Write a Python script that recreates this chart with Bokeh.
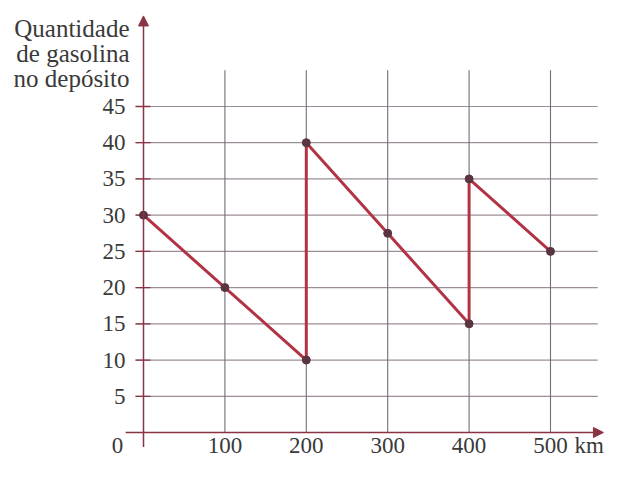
from bokeh.plotting import figure
from bokeh.models import Range1d, ColumnDataSource, Arrow, NormalHead
from bokeh.core.properties import value
from bokeh.embed import file_html
from bokeh.resources import INLINE

# ---- data ----
km = [0, 100, 200, 200, 300, 400, 400, 500]
fuel = [30, 20, 10, 40, 27.5, 15, 35, 25]
y_ticks = [5, 10, 15, 20, 25, 30, 35, 40, 45]
y_tick_labels = ["5", "10", "15", "20", "25", "30", "35", "40", "45"]
x_ticks = [100, 200, 300, 400, 500]
x_tick_labels = ["100", "200", "300", "400", "500"]
title_lines = ["Quantidade", "de gasolina", "no depósito"]
x_unit = "km"
origin_label = "0"

SERIF = "Liberation Serif"
TXT = "#3a3a3a"
AXIS = "#8a3344"
LINE = "#b23444"
DOT = "#5a3540"
HGRID = "#9c8e99"
VGRID = "#6f6f7c"

Y_TOP = 59.63
p = figure(width=605, height=462, output_backend="svg", toolbar_location=None,
           x_range=Range1d(-175.68, 567.57), y_range=Range1d(-4.141, Y_TOP),
           min_border=0, min_border_left=0, min_border_right=0,
           min_border_top=0, min_border_bottom=0)
p.xaxis.visible = False
p.yaxis.visible = False
p.xgrid.visible = False
p.ygrid.visible = False
p.outline_line_color = None
p.background_fill_color = "white"
p.border_fill_color = "white"

x_left = -9.8
x_right = 558
y_top = 50.0

# horizontal grid lines
p.segment(x0=[x_left] * len(y_ticks), y0=y_ticks, x1=[x_right] * len(y_ticks), y1=y_ticks,
          line_color=HGRID, line_width=1.2)
# short tick marks on y axis
p.segment(x0=[x_left] * len(y_ticks), y0=y_ticks, x1=[8.6] * len(y_ticks), y1=y_ticks,
          line_color=AXIS, line_width=1.3)
# vertical grid lines
p.segment(x0=x_ticks, y0=[0] * len(x_ticks), x1=x_ticks, y1=[y_top] * len(x_ticks),
          line_color=VGRID, line_width=1.1)

# axes with arrow heads
p.add_layout(Arrow(end=NormalHead(size=10, fill_color=AXIS, line_color=AXIS),
                   x_start=0, y_start=-2.0, x_end=0, y_end=57.5,
                   line_color=AXIS, line_width=1.5))
p.add_layout(Arrow(end=NormalHead(size=10, fill_color=AXIS, line_color=AXIS),
                   x_start=-22, y_start=0, x_end=565, y_end=0,
                   line_color=AXIS, line_width=1.5))

# data
src = ColumnDataSource(dict(km=km, fuel=fuel))
p.line("km", "fuel", source=src, line_color=LINE, line_width=3)
p.scatter("km", "fuel", source=src, size=8, fill_color=DOT, line_color=DOT)

FS = "23px"
# y tick labels
p.text(x=[0] * len(y_ticks), y=y_ticks, text=y_tick_labels, x_offset=-18,
       text_align="right", text_baseline="middle", text_font=value(SERIF),
       text_font_size=FS, text_color=TXT)
# x tick labels
p.text(x=x_ticks, y=[0] * len(x_ticks), text=x_tick_labels, y_offset=6,
       text_align="center", text_baseline="top", text_font=value(SERIF),
       text_font_size=FS, text_color=TXT)
p.text(x=[0], y=[0], text=[origin_label], x_offset=-26, y_offset=6,
       text_align="center", text_baseline="top", text_font=value(SERIF),
       text_font_size=FS, text_color=TXT)
p.text(x=[x_ticks[-1]], y=[0], text=[x_unit], x_offset=24, y_offset=1,
       text_align="left", text_baseline="top", text_font=value(SERIF),
       text_font_size=FS, text_color=TXT)

# y axis title (three lines)
for i, line in enumerate(title_lines):
    p.text(x=[0], y=[Y_TOP], text=[line], x_offset=-14, y_offset=28 + 25 * i,
           text_align="right", text_baseline="alphabetic", text_font=value(SERIF),
           text_font_size="25px", text_color=TXT)

open("out.html", "w").write(file_html(p, INLINE))
